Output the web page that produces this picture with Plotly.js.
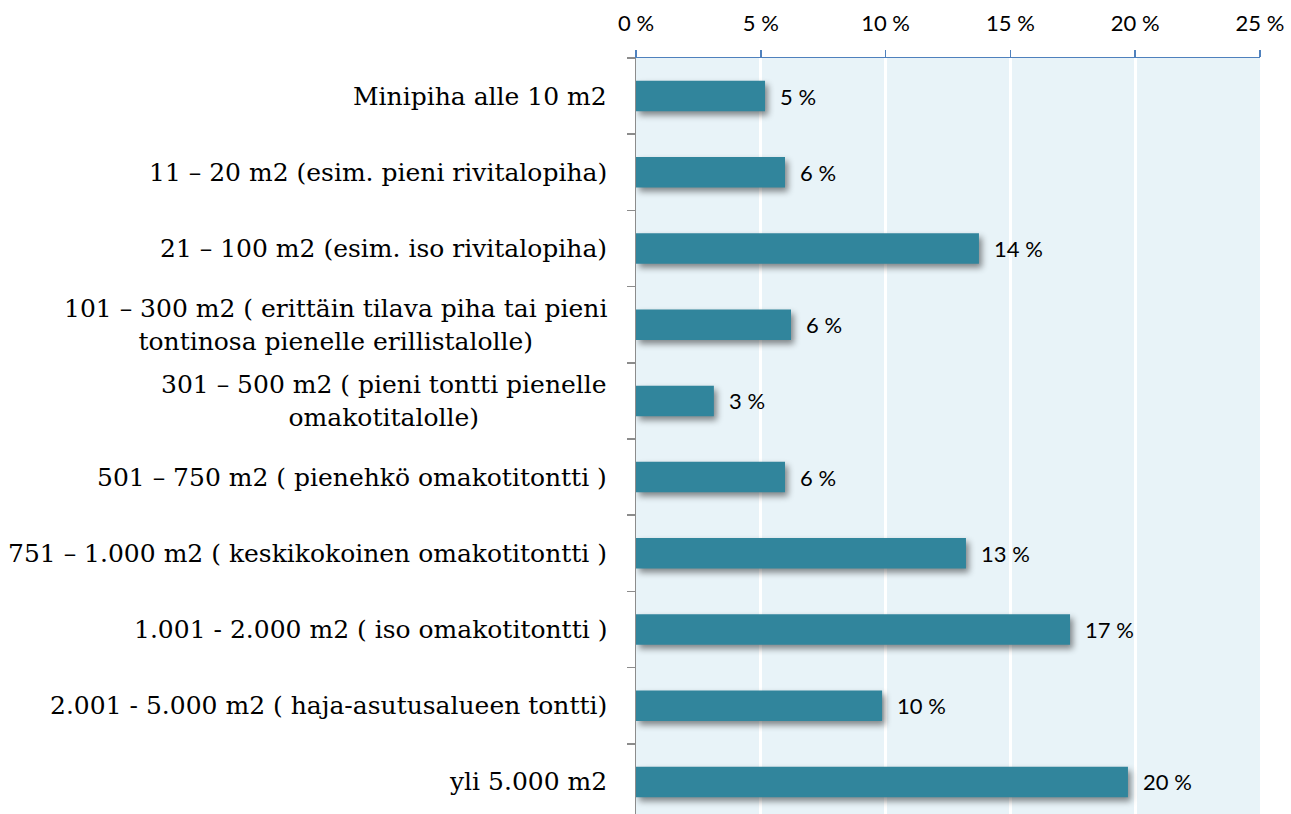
<!DOCTYPE html>
<html>
<head>
<meta charset="utf-8">
<script src="https://cdn.plot.ly/plotly-3.0.1.min.js"></script>
<style>
html,body{margin:0;padding:0;overflow:hidden;background:#fff;}
#chart{width:1291px;height:832px;}
</style>
</head>
<body>
<div id="chart"></div>
<script>
const categories = [
  "Minipiha alle 10 m2",
  "11 – 20 m2 (esim. pieni rivitalopiha)",
  "21 – 100 m2 (esim. iso rivitalopiha)",
  "101 – 300 m2 ( erittäin tilava piha tai pieni<br>tontinosa pienelle erillistalolle)",
  "301 – 500 m2 ( pieni tontti pienelle<br>omakotitalolle)",
  "501 – 750 m2 ( pienehkö omakotitontti )",
  "751 – 1.000 m2 ( keskikokoinen omakotitontti )",
  "1.001 - 2.000 m2 ( iso omakotitontti )",
  "2.001 - 5.000 m2 ( haja-asutusalueen tontti)",
  "yli 5.000 m2"
];
const values = [5.17, 5.97, 13.74, 6.21, 3.12, 5.97, 13.22, 17.39, 9.86, 19.71];
const valueLabels = ["5 %", "6 %", "14 %", "6 %", "3 %", "6 %", "13 %", "17 %", "10 %", "20 %"];
const tickValues = [0, 5, 10, 15, 20, 25];

const ids = categories.map((c, i) => "c" + i);

const trace = {
  type: "bar",
  orientation: "h",
  x: values,
  y: ids,
  width: 0.4,
  marker: {color: "#31859c", line: {width: 0}},
  hoverinfo: "none"
};

const annotations = [];
categories.forEach((c, i) => {
  annotations.push({
    xref: "paper", yref: "y", x: 0, y: ids[i],
    text: c, showarrow: false, xanchor: "right", align: "center",
    xshift: -27,
    font: {family: "DejaVu Serif, Liberation Serif, serif", size: 25, color: "#000"}
  });
  annotations.push({
    xref: "x", yref: "y", x: values[i], y: ids[i],
    text: valueLabels[i], showarrow: false, xanchor: "left",
    xshift: 13,
    font: {family: "Lato, Open Sans, sans-serif", size: 22, color: "#000"}
  });
});

const layout = {
  width: 1291, height: 832,
  margin: {l: 636, r: 31, t: 58, b: 12},
  paper_bgcolor: "#fff",
  plot_bgcolor: "#e8f3f8",
  showlegend: false,
  bargap: 0.6,
  xaxis: {
    side: "top", range: [0, 25], tickvals: tickValues,
    ticktext: tickValues.map(v => v + " %"),
    showgrid: true, gridcolor: "#ffffff", gridwidth: 3,
    showline: true, linecolor: "#4f81bd", linewidth: 1.5,
    ticks: "outside", ticklen: 7, tickcolor: "#4f81bd", tickwidth: 1.5,
    ticklabelstandoff: 10,
    tickfont: {family: "Lato, Open Sans, sans-serif", size: 22, color: "#000"},
    zeroline: false, fixedrange: true
  },
  yaxis: {
    type: "category", autorange: "reversed",
    showticklabels: false, showgrid: false, zeroline: false,
    showline: true, linecolor: "#8c8c8c", linewidth: 1.5,
    ticks: "outside", ticklen: 8, tickcolor: "#8c8c8c", tickwidth: 1.5,
    tickson: "boundaries", fixedrange: true
  },
  annotations: annotations
};

Plotly.newPlot("chart", [trace], layout, {displayModeBar: false, staticPlot: true}).then(() => {
  document.querySelectorAll(".bars path").forEach(p => {
    p.style.filter = "drop-shadow(3px 4px 3px rgba(0,0,0,0.45))";
  });
});
</script>
</body>
</html>
